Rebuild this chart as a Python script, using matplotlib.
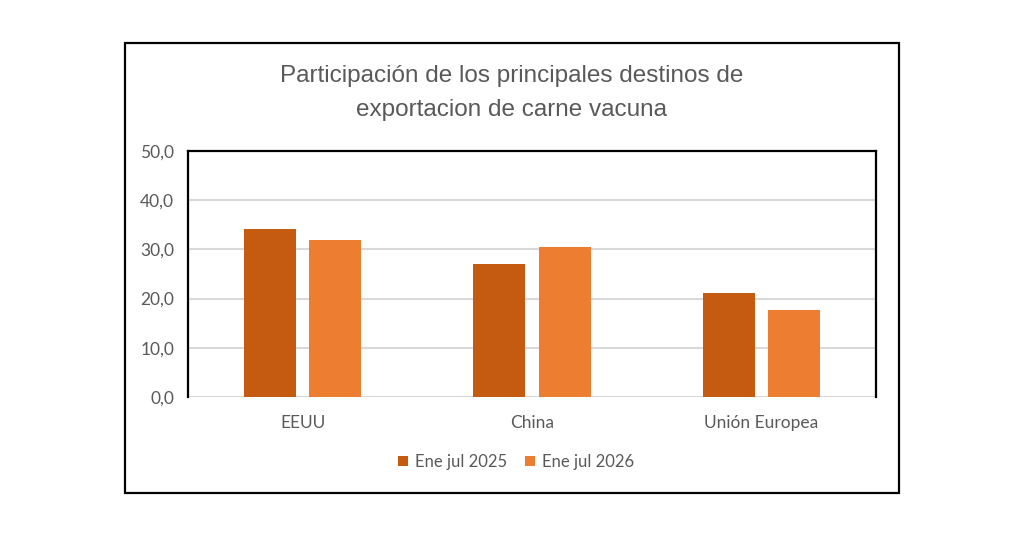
import matplotlib
matplotlib.use("Agg")
import matplotlib.pyplot as plt
from matplotlib.patches import Rectangle
import numpy as np

categories = ["EEUU", "China", "Unión Europea"]
series_names = ["Ene jul 2025", "Ene jul 2026"]
values_2025 = [34.2, 27.1, 21.2]
values_2026 = [32.0, 30.5, 17.7]
yticks = [0, 10, 20, 30, 40, 50]
title = "Participación de los principales destinos de\nexportacion de carne vacuna"

colors = ["#C55A11", "#ED7D31"]
text_color = "#595959"
tick_font = ["Lato", "DejaVu Sans"]
title_font = ["Liberation Sans Narrow", "Liberation Sans", "DejaVu Sans"]

fig = plt.figure(figsize=(10.24, 5.35), dpi=100)
fig.patch.set_facecolor("white")

# outer frame
fig.patches.append(Rectangle((125/1024, 1-493/535), 774/1024, 450/535,
                             transform=fig.transFigure, fill=False,
                             edgecolor="black", linewidth=1.6, zorder=0))

ax = fig.add_axes([188/1024, 1-397/535, 688/1024, 246/535])
x = np.arange(len(categories))
w = 0.227
off = 0.142
ax.bar(x - off, values_2025, w, color=colors[0], label=series_names[0], zorder=3)
ax.bar(x + off, values_2026, w, color=colors[1], label=series_names[1], zorder=3)

ax.set_xlim(-0.5, len(categories) - 0.5)
ax.set_ylim(0, 50)
ax.set_yticks(yticks)
ax.set_yticklabels([f"{v:.1f}".replace(".", ",") for v in yticks],
                   fontfamily=tick_font, fontsize=12.5, color=text_color)
ax.set_xticks(x)
ax.set_xticklabels(categories, fontfamily=tick_font, fontsize=12.5, color=text_color)
ax.tick_params(axis="both", length=0)
ax.tick_params(axis="y", pad=10)
ax.tick_params(axis="x", pad=13)
ax.yaxis.grid(True, color="#D9D9D9", linewidth=1.5, zorder=0)
ax.set_axisbelow(True)
for s in ["left", "top", "right"]:
    ax.spines[s].set_color("black")
    ax.spines[s].set_linewidth(1.6)
ax.spines["bottom"].set_visible(False)

fig.text(512/1024, 1-93/535, title, ha="center", va="center",
         fontfamily=title_font, fontsize=17.5, color=text_color, linespacing=1.75)

leg = fig.legend(loc="center", bbox_to_anchor=(516/1024, 1-462/535), ncol=2,
                 frameon=False, handlelength=0.6, handleheight=0.6,
                 handletextpad=0.4, columnspacing=1.1,
                 prop={"family": tick_font, "size": 12})
for t in leg.get_texts():
    t.set_color(text_color)

fig.savefig("out.png", dpi=100, facecolor="white")
